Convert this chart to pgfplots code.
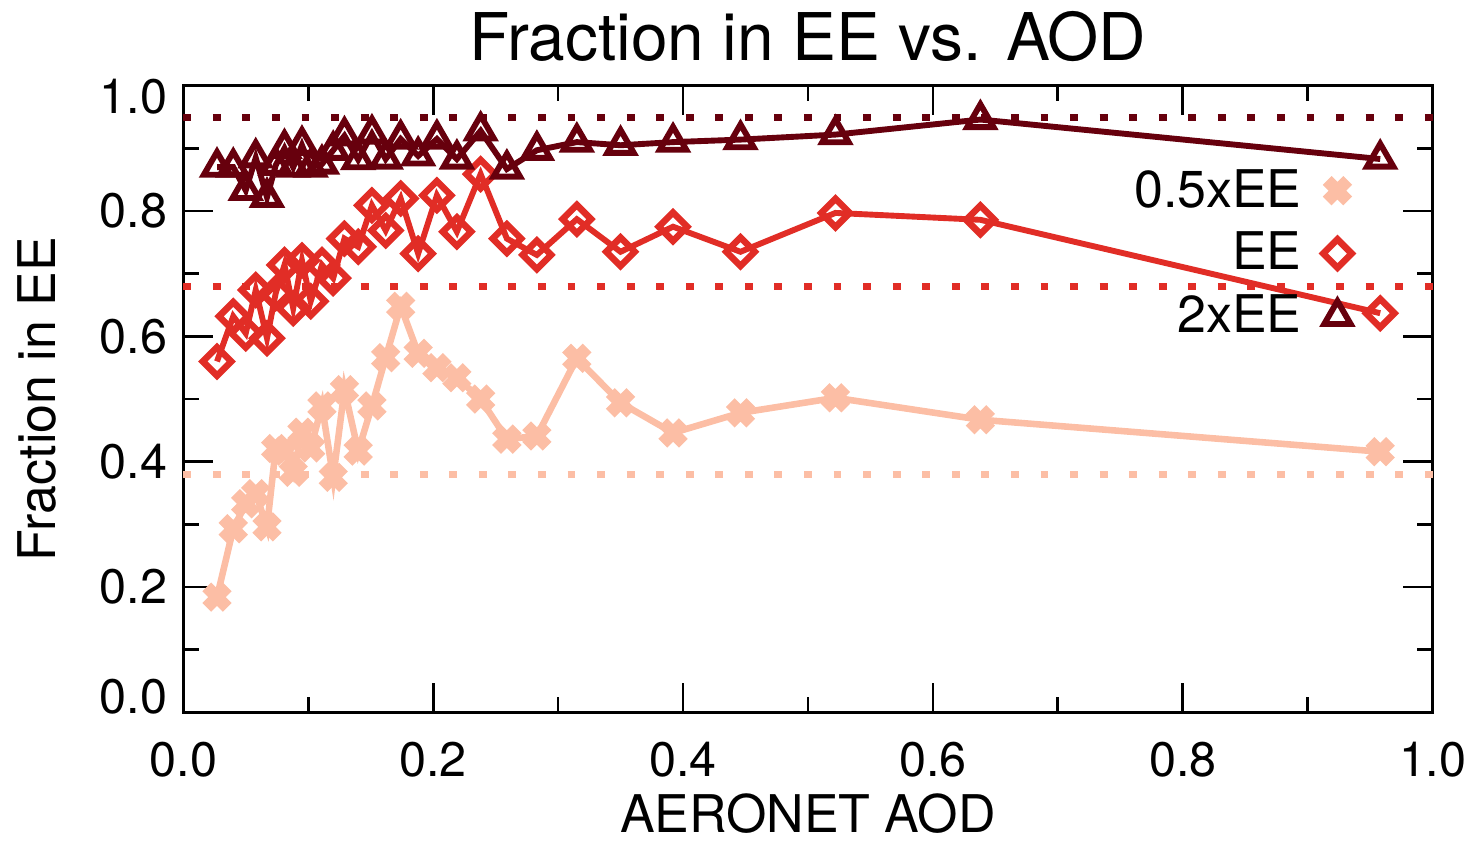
\documentclass[border=0pt]{standalone}
\usepackage{fontspec}
\setmainfont{TeX Gyre Heros}
\usepackage{pgfplots}
\pgfplotsset{compat=1.18}
\definecolor{cpink}{RGB}{252,190,165}
\definecolor{cred}{RGB}{225,45,38}
\definecolor{cdark}{RGB}{103,0,13}

\begin{document}
\begin{tikzpicture}
\begin{axis}[
  scale only axis,
  width=12.68cm, height=6.36cm,
  xmin=0, xmax=1, ymin=0, ymax=1,
  xtick={0,0.2,...,1.0}, ytick={0,0.2,0.4,0.6,0.8,1.0},
  xticklabels={0.0,0.2,0.4,0.6,0.8,1.0},
  yticklabels={\raisebox{0.16cm}[\height][\depth]{0.0},0.2,0.4,0.6,0.8,\raisebox{-0.11cm}[\height][\depth]{1.0}},
  minor x tick num=1, minor y tick num=1,
  major tick length=0.3cm, minor tick length=0.16cm,
  every tick/.style={black, line width=0.8pt},
  axis line style={line width=0.8pt},
  tick label style={font=\fontsize{14}{14}\selectfont},
  xticklabel style={yshift=-0.18cm},
  yticklabel style={xshift=-0.04cm},
  every axis title shift=0pt,
  title={Fraction in EE vs. AOD},
  title style={at={(0.5,1)},anchor=base,yshift=0.26cm,font=\fontsize{19}{19}\selectfont},
  xlabel={AERONET AOD},
  xlabel style={at={(0.5,0)},anchor=base,yshift=-1.22cm,font=\fontsize{15}{15}\selectfont},
  ylabel={Fraction in EE},
  ylabel style={at={(0,0.5)},anchor=base,yshift=1.30cm,font=\fontsize{15}{15}\selectfont},
  legend plot pos=right,
  legend cell align=right,
  legend image code/.code={\path (0cm,0cm); \draw[#1,only marks] plot coordinates {(0.26cm,0cm)};},
  legend style={draw=none, fill=none, at={(0.944,0.89)}, anchor=north east,
    font=\fontsize{15}{15}\selectfont, row sep=0.06cm},
  clip=false,
]
\coordinate (bl) at (rel axis cs:0,0);
\coordinate (tr) at (rel axis cs:1,1);

% reference levels
\addplot[forget plot, cdark, line width=2pt, dash pattern=on 0.08cm off 0.22cm] coordinates {(0,0.95) (1,0.95)};
\addplot[forget plot, cred, line width=2pt, dash pattern=on 0.08cm off 0.22cm] coordinates {(0,0.68) (1,0.68)};
\addplot[forget plot, cpink, line width=2pt, dash pattern=on 0.08cm off 0.22cm] coordinates {(0,0.38) (1,0.38)};

\addplot[cpink, line width=1.9pt, mark=x, mark size=4.2pt, mark options={line width=3.6pt}] coordinates {
 (0.027,0.184) (0.040,0.293) (0.050,0.333) (0.058,0.349) (0.067,0.296)
 (0.074,0.421) (0.081,0.417) (0.088,0.383) (0.095,0.447) (0.102,0.422)
 (0.111,0.489) (0.120,0.375) (0.129,0.515) (0.140,0.417) (0.151,0.489)
 (0.162,0.566) (0.174,0.648) (0.188,0.573) (0.203,0.550) (0.219,0.534)
 (0.238,0.500) (0.259,0.436) (0.283,0.441) (0.315,0.565) (0.350,0.494)
 (0.392,0.446) (0.446,0.478) (0.522,0.502) (0.638,0.467) (0.958,0.416)
};
\addlegendentry{0.5xEE}

\addplot[cred, line width=1.7pt, mark=square, mark size=2.9pt, mark options={rotate=45,line width=1.9pt}] coordinates {
 (0.027,0.560) (0.040,0.632) (0.050,0.605) (0.058,0.674) (0.067,0.597)
 (0.074,0.669) (0.081,0.714) (0.088,0.645) (0.095,0.721) (0.102,0.656)
 (0.111,0.714) (0.120,0.693) (0.129,0.756) (0.140,0.743) (0.151,0.809)
 (0.162,0.769) (0.174,0.820) (0.188,0.732) (0.203,0.825) (0.219,0.767)
 (0.238,0.859) (0.259,0.756) (0.283,0.730) (0.315,0.787) (0.350,0.735)
 (0.392,0.775) (0.446,0.735) (0.522,0.797) (0.638,0.786) (0.958,0.637)
};
\addlegendentry{EE}

\addplot[cdark, line width=1.7pt, mark=triangle, mark size=4.4pt, mark options={line width=1.7pt}] coordinates {
 (0.027,0.870) (0.040,0.870) (0.050,0.833) (0.058,0.885) (0.067,0.822)
 (0.074,0.873) (0.081,0.900) (0.088,0.870) (0.095,0.905) (0.102,0.870)
 (0.111,0.875) (0.120,0.897) (0.129,0.920) (0.140,0.882) (0.151,0.923)
 (0.162,0.883) (0.174,0.915) (0.188,0.888) (0.203,0.915) (0.219,0.883)
 (0.238,0.928) (0.259,0.867) (0.283,0.897) (0.315,0.910) (0.350,0.905)
 (0.392,0.910) (0.446,0.914) (0.522,0.922) (0.638,0.946) (0.958,0.883)
};
\addlegendentry{2xEE}
\end{axis}
\pgfresetboundingbox
\path ([xshift=-1.86cm,yshift=-1.30cm]bl) rectangle ([xshift=0.47cm,yshift=0.87cm]tr);
\end{tikzpicture}
\end{document}
